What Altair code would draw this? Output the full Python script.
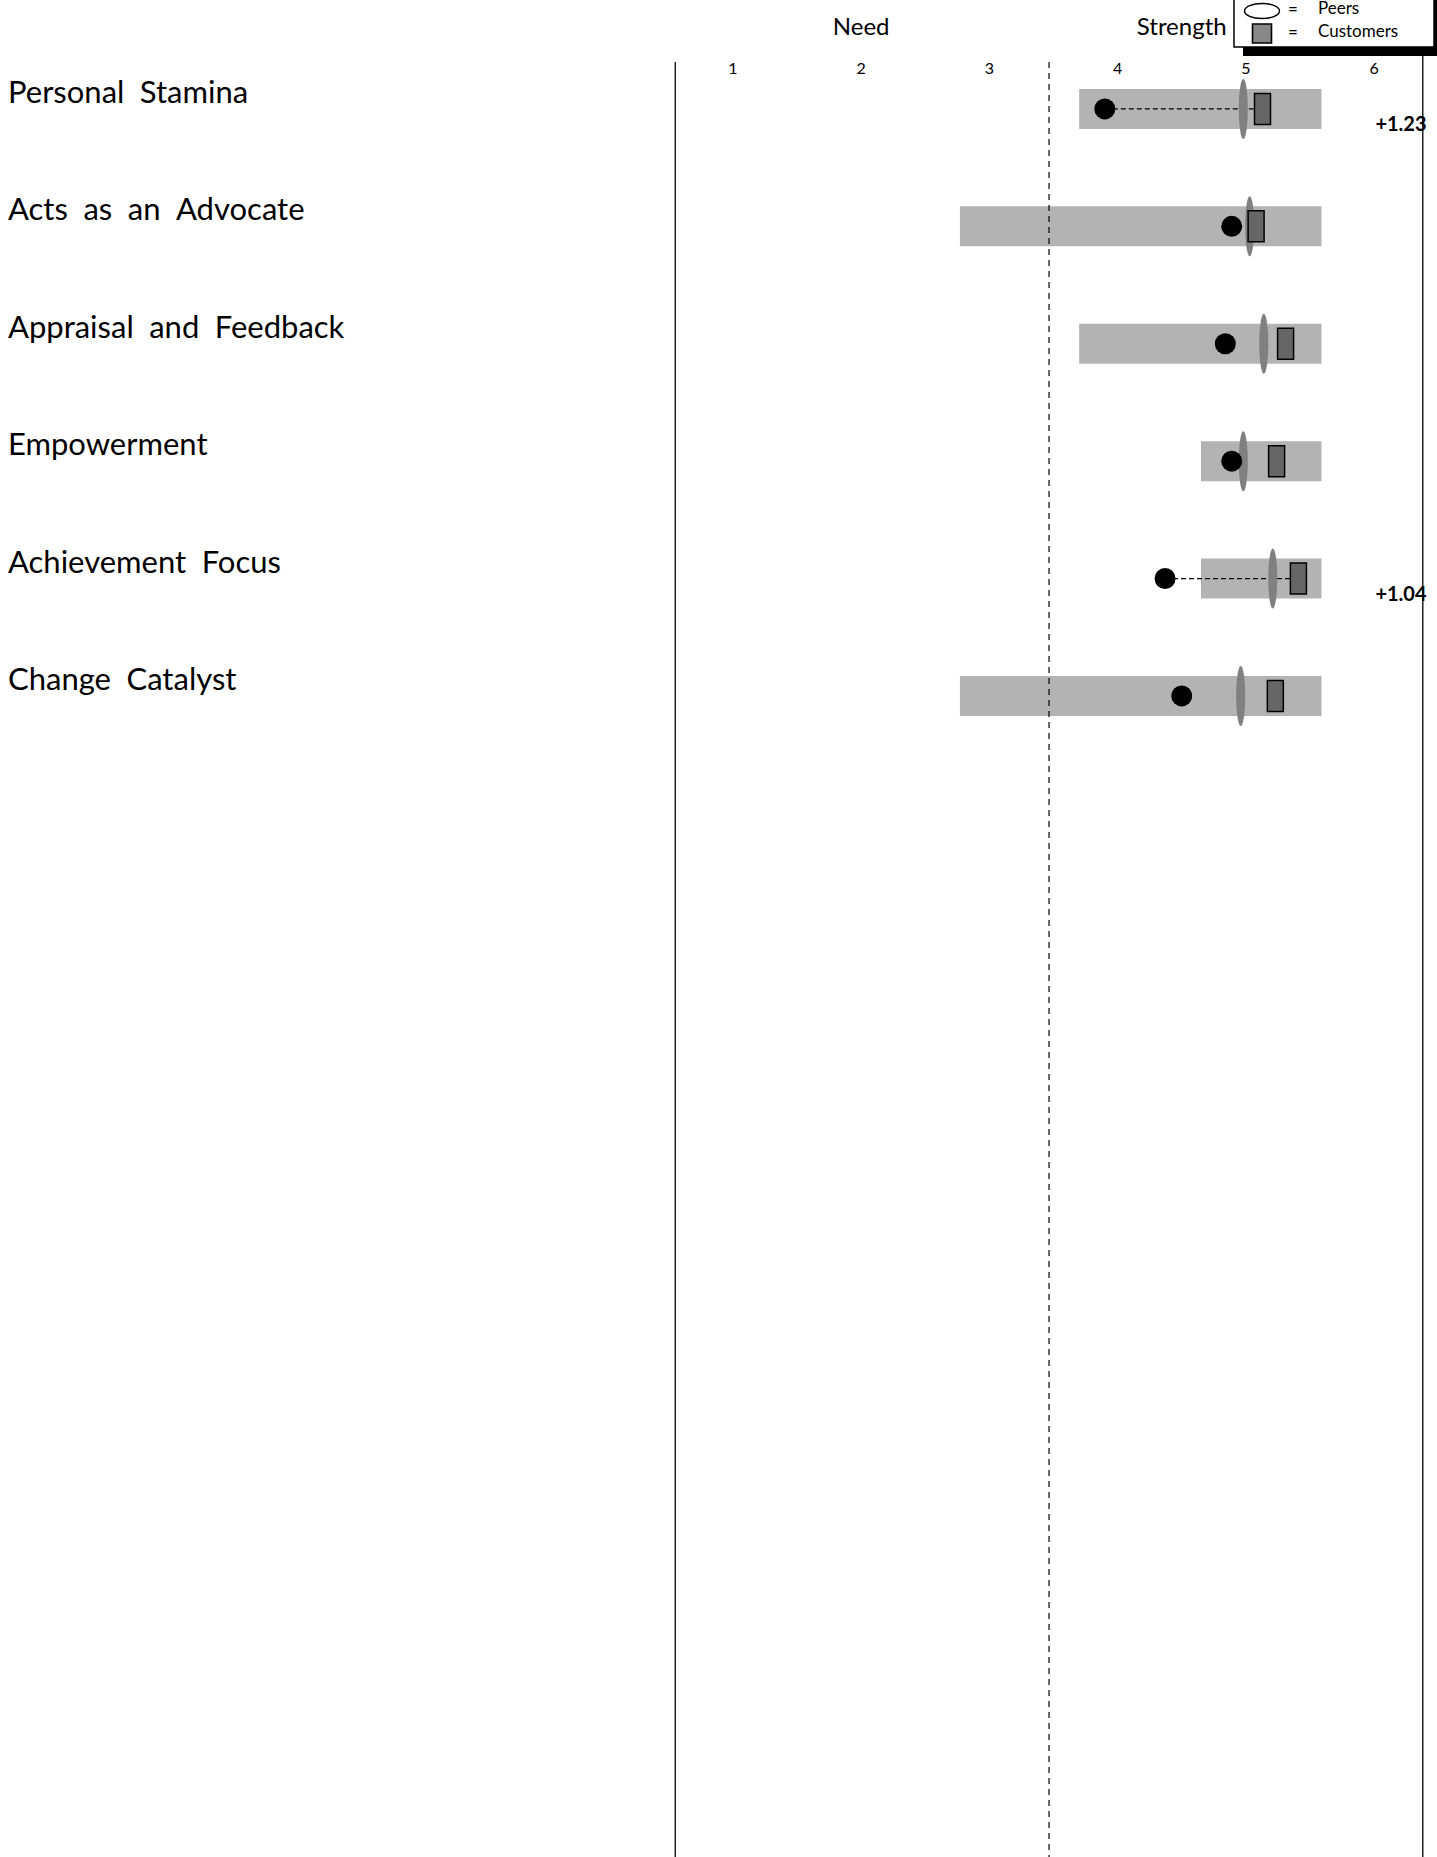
import altair as alt
import pandas as pd

# --- chart data -------------------------------------------------------------
competencies = [
    "Personal Stamina",
    "Acts as an Advocate",
    "Appraisal and Feedback",
    "Empowerment",
    "Achievement Focus",
    "Change Catalyst",
]
range_low = [3.70, 2.77, 3.70, 4.65, 4.65, 2.77]
range_high = [5.59, 5.59, 5.59, 5.59, 5.59, 5.59]
self_scores = [3.90, 4.89, 4.84, 4.89, 4.37, 4.50]
peer_scores = [4.98, 5.03, 5.14, 4.98, 5.21, 4.96]
customer_scores = [5.13, 5.08, 5.31, 5.24, 5.41, 5.23]
gap_labels = ["+1.23", "", "", "", "+1.04", ""]

tick_values = [1, 2, 3, 4, 5, 6]
scale_headers = ["Need", "Strength"]
header_anchors = [2, 4.5]
legend_labels = ["Peers", "Customers"]

# --- tables -------------------------------------------------------------------
rows = pd.DataFrame({
    "competency": competencies,
    # wide word spacing in the row titles
    "title": [c.replace(" ", "\u2002") for c in competencies],
    "row": list(range(len(competencies))),
    "low": range_low,
    "high": range_high,
    "self": self_scores,
    "peers": peer_scores,
    "customers": customer_scores,
    "gap": gap_labels,
})
ticks = pd.DataFrame({"tick": tick_values, "label": [str(t) for t in tick_values]})
headers = pd.DataFrame({"pos": header_anchors, "label": scale_headers})
one = pd.DataFrame({"k": [0]})

W, H = 1437, 1857
FONT = "Lato"

x_scale = alt.Scale(domain=[-4.717, 6.491], nice=False, zero=False)
y_scale = alt.Scale(domain=[-0.928, 14.89], nice=False, zero=False, reverse=True)


def X(f):
    return alt.X(f, type="quantitative", scale=x_scale, axis=None)


Y = alt.Y("row:Q", scale=y_scale, axis=None)

# frame of the scale: two solid borders and a dashed midline
left_edge, right_edge = 0.55, 6.38
mid_line = (left_edge + right_edge) / 2


def vline(pos, top, **style):
    return alt.Chart(one).transform_calculate(pos=str(pos)).mark_rule(**style).encode(
        x=X("pos"), y=alt.value(top), y2=alt.value(H)
    )


frame_left = vline(left_edge, 62, color="#222", strokeWidth=1.5)
frame_right = vline(right_edge, 52, color="#222", strokeWidth=1.5)
frame_mid = vline(mid_line, 62, color="#000", strokeWidth=1.2, strokeDash=[6, 5])

# score range bars
bars = alt.Chart(rows).mark_rule(color="#b3b3b3", strokeWidth=40, strokeCap="butt").encode(
    x=X("low"), x2="high", y=Y
)

# dashed connector where a gap is flagged
connector = alt.Chart(rows).transform_filter("datum.gap != ''").mark_rule(
    color="#000", strokeWidth=1.2, strokeDash=[5, 3]
).encode(x=X("self"), x2="customers", y=Y)


def ellipse_path(rx, ry):
    k = 0.5523
    return (
        f"M0,-{ry}C{rx*k:.4f},-{ry} {rx},-{ry*k:.4f} {rx},0"
        f"C{rx},{ry*k:.4f} {rx*k:.4f},{ry} 0,{ry}"
        f"C-{rx*k:.4f},{ry} -{rx},{ry*k:.4f} -{rx},0"
        f"C-{rx},-{ry*k:.4f} -{rx*k:.4f},-{ry} 0,-{ry}Z"
    )


# peers: tall grey ellipse
peers = alt.Chart(rows).mark_point(
    shape=ellipse_path(0.15, 1), size=3600, filled=True, color="#808080", opacity=1
).encode(x=X("peers"), y=Y)

# self: black dot
selfdot = alt.Chart(rows).mark_point(
    shape="circle", size=441, filled=True, color="#000", opacity=1
).encode(x=X("self"), y=Y)

# customers: outlined dark-grey box
box_shape = "M-0.516,-1L0.516,-1L0.516,1L-0.516,1Z"
customers = alt.Chart(rows).mark_point(
    shape=box_shape, size=961, filled=True, fill="#666666", stroke="#000",
    strokeWidth=1.5, opacity=1
).encode(x=X("customers"), y=Y)

# gap annotations
gaps = alt.Chart(rows).transform_filter("datum.gap != ''").transform_calculate(
    gap_x="6.21"
).mark_text(
    font=FONT, fontSize=20, fontWeight="bold", align="center", baseline="middle", dy=16, color="#000"
).encode(x=X("gap_x"), y=Y, text="gap:N")

# competency names
names = alt.Chart(rows).mark_text(
    font=FONT, fontSize=31, align="left", baseline="middle", dy=-15, color="#000"
).encode(x=alt.value(8), y=Y, text="title:N")

# scale numbers and headers
tick_text = alt.Chart(ticks).mark_text(
    font=FONT, fontSize=16, align="center", baseline="middle", color="#000"
).encode(x=X("tick"), y=alt.value(69), text="label:N")

header_text = alt.Chart(headers).mark_text(
    font=FONT, fontSize=24, align="center", baseline="middle", color="#000"
).encode(x=X("pos"), y=alt.value(28), text="label:N")

# legend box with drop shadow
legend_shadow = alt.Chart(one).mark_rect(fill="#000").encode(
    x=alt.value(1243), x2=alt.value(W + 5), y=alt.value(-5), y2=alt.value(56)
)
legend_box = alt.Chart(one).mark_rect(fill="#fff", stroke="#000", strokeWidth=1.5).encode(
    x=alt.value(1234), x2=alt.value(1434), y=alt.value(-5), y2=alt.value(47)
)
legend_peer_sym = alt.Chart(one).mark_point(
    shape=ellipse_path(1, 0.43), size=1225, filled=True, fill="#fff", stroke="#000",
    strokeWidth=1.4, opacity=1
).encode(x=alt.value(1262), y=alt.value(11))
legend_cust_sym = alt.Chart(one).mark_point(
    shape="M-1,-1L1,-1L1,1L-1,1Z", size=361, filled=True, fill="#888",
    stroke="#000", strokeWidth=1.6, opacity=1
).encode(x=alt.value(1262), y=alt.value(33.5))

legend_tbl = pd.DataFrame({"label": legend_labels, "eq": ["=", "="]})


def legend_text(label, field, xpos, ypos, align):
    return alt.Chart(legend_tbl).transform_filter(f"datum.label == '{label}'").mark_text(
        font=FONT, fontSize=17, align=align, baseline="middle", color="#000"
    ).encode(x=alt.value(xpos), y=alt.value(ypos), text=f"{field}:N")


legend_peer_txt = legend_text("Peers", "label", 1318, 9, "left")
legend_cust_txt = legend_text("Customers", "label", 1318, 32, "left")
legend_eq1 = legend_text("Peers", "eq", 1293, 10, "center")
legend_eq2 = legend_text("Customers", "eq", 1293, 33, "center")

chart = alt.layer(
    bars, frame_mid, frame_left, frame_right, connector, peers, selfdot, customers,
    gaps, names, tick_text, header_text,
    legend_shadow, legend_box, legend_peer_sym, legend_cust_sym,
    legend_eq1, legend_eq2, legend_peer_txt, legend_cust_txt,
).properties(
    width=W, height=H, autosize=alt.AutoSizeParams(type="none"), padding=0,
    background="#ffffff",
).configure_view(stroke=None)

chart.save("out.html", embed_options={"renderer": "svg", "actions": False})
